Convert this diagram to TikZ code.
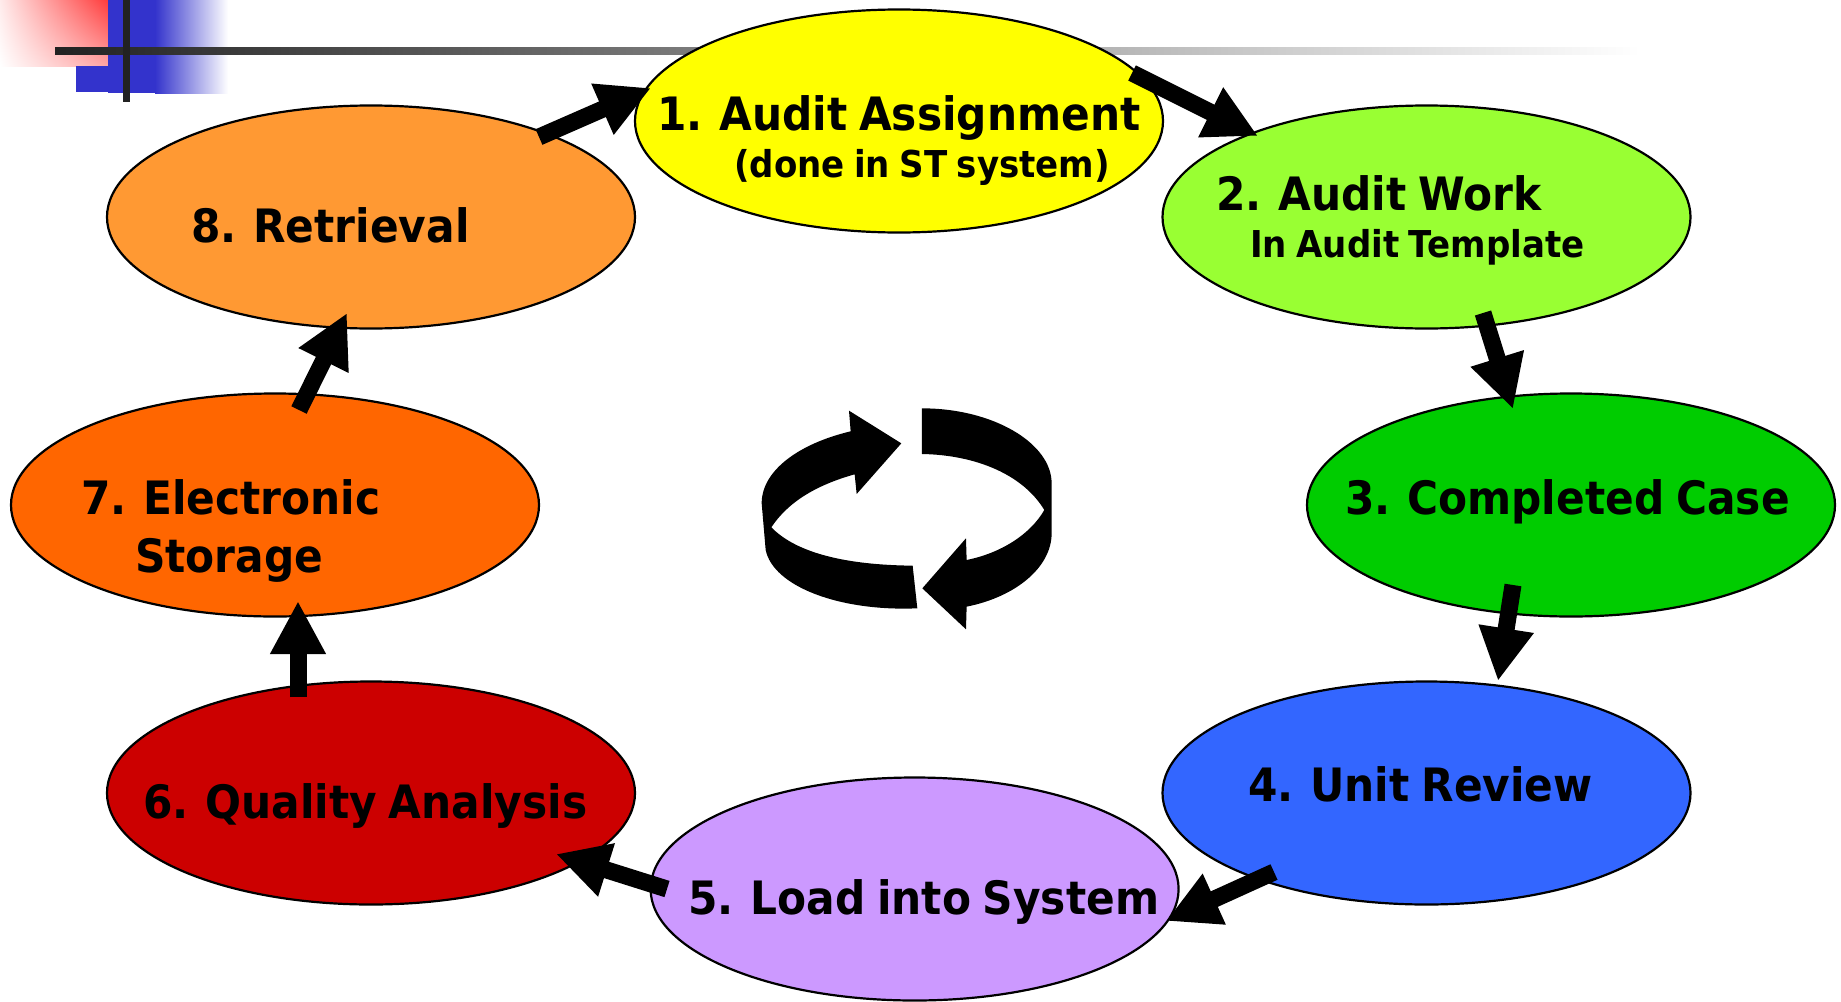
\documentclass[tikz,border=0pt]{standalone}
\usepackage{fontspec}
\usetikzlibrary{shapes.geometric,arrows.meta,shadings}
\newfontfamily\lblfont[FakeStretch=0.92,WordSpace=0.8]{DejaVu Sans}
\tikzset{
  stage/.style={ellipse,draw=black,line width=2.2pt,minimum width=528pt,minimum height=223pt,inner sep=0pt},
  big/.style={anchor=base west,inner sep=0pt,font=\lblfont\bfseries\fontsize{46}{50}\selectfont},
  small/.style={anchor=base west,inner sep=0pt,font=\lblfont\bfseries\fontsize{37}{40}\selectfont},
  flow/.style={line width=17pt,-{Triangle[length=53pt,width=52pt]}}
}
\definecolor{hdrblue}{RGB}{51,51,204}
\definecolor{hdrred}{RGB}{255,60,60}
\definecolor{hdrpink}{RGB}{255,165,165}
\definecolor{hdrpale}{RGB}{255,235,235}
\definecolor{hdrdark}{RGB}{34,34,34}
\definecolor{hdrmid}{RGB}{176,176,176}
\definecolor{stone}{RGB}{255,255,0}
\definecolor{sttwo}{RGB}{153,255,51}
\definecolor{stthree}{RGB}{0,204,0}
\definecolor{stfour}{RGB}{51,102,255}
\definecolor{stfive}{RGB}{204,153,255}
\definecolor{stsix}{RGB}{204,0,0}
\definecolor{stseven}{RGB}{255,102,0}
\definecolor{steight}{RGB}{255,153,51}
\begin{document}
\begin{tikzpicture}[x=1pt,y=-1pt]
\useasboundingbox (0,0) rectangle (1841,1001);
\fill[white] (0,0) rectangle (1841,1001);
% header decoration
\shade[lower left=white,upper left=hdrpale,lower right=hdrpink,upper right=hdrred] (0,0) rectangle (108,66);
\fill[hdrblue] (108,0) rectangle (155,93);
\fill[hdrblue] (76,66) rectangle (155,92);
\shade[left color=hdrblue,right color=white] (155,0) rectangle (228,93);
\shade[left color=hdrdark,middle color=hdrmid,right color=white] (55,47) rectangle (1640,54);
\fill[hdrdark] (123,0) rectangle (130,102);
% stages
\node[stage,fill=stone] (n1) at (899,121) {};
\node[stage,fill=sttwo] (n2) at (1426.5,217) {};
\node[stage,fill=stthree] (n3) at (1571,505) {};
\node[stage,fill=stfour] (n4) at (1426.5,793) {};
\node[stage,fill=stfive] (n5) at (914.6,889) {};
\node[stage,fill=stsix] (n6) at (371,793) {};
\node[stage,fill=stseven] (n7) at (275,505) {};
\node[stage,fill=steight] (n8) at (371,217) {};
% labels
\node[big] (l1) at (657,130) {1. Audit Assignment};
\node[small] (s1) at (734,177) {(done in ST system)};
\node[big] (l2) at (1216,210) {2. Audit Work};
\node[small] (s2) at (1250,257) {In Audit Template};
\node[big] (l3) at (1345,514) {3. Completed Case};
\node[big] (l4) at (1248,801) {4. Unit Review};
\node[big] (l5) at (688,914) {5. Load into System};
\node[big] (l6) at (143,818) {6. Quality Analysis};
\node[big] (l7) at (81,514) {7. Electronic};
\node[big] (m7) at (135,572) {Storage};
\node[big] (l8) at (191,242) {8. Retrieval};
% flow arrows
\coordinate (t12) at (1132,73);   \coordinate (h12) at (1258,136);
\coordinate (t23) at (1483,313);  \coordinate (h23) at (1513,409);
\coordinate (t34) at (1513,585);  \coordinate (h34) at (1498,681);
\coordinate (t45) at (1274,872);  \coordinate (h45) at (1166,921);
\coordinate (t56) at (667,889);   \coordinate (h56) at (556,854);
\coordinate (t67) at (298,697);   \coordinate (h67) at (298,601);
\coordinate (t78) at (299,410);   \coordinate (h78) at (347,313);
\coordinate (t81) at (539,137);   \coordinate (h81) at (651,88);
\draw[flow] (t12) -- (h12);
\draw[flow] (t23) -- (h23);
\draw[flow] (t34) -- (h34);
\draw[flow] (t45) -- (h45);
\draw[flow] (t56) -- (h56);
\draw[flow] (t67) -- (h67);
\draw[flow] (t78) -- (h78);
\draw[flow] (t81) -- (h81);
% central cycle symbol
\begin{scope}[shift={(730,390)},x=0.3333pt,y=-0.3333pt]
\fill[black] (576,55) .. controls (790,55) and (965,160) .. (965,280) -- (965,430)
  .. controls (965,530) and (860,620) .. (710,650) -- (708,718) -- (577,595) -- (708,445) -- (710,510)
  .. controls (810,490) and (900,435) .. (943,360) .. controls (880,255) and (740,195) .. (576,192) -- cycle;
\fill[black] (562,655) .. controls (330,665) and (130,590) .. (107,480) -- (95,340)
  .. controls (95,240) and (210,160) .. (362,124) -- (357,62) -- (514,160) -- (380,312) -- (374,253)
  .. controls (260,285) and (175,335) .. (124,412) .. controls (200,490) and (350,525) .. (548,527) -- cycle;
\end{scope}
\end{tikzpicture}
\end{document}
